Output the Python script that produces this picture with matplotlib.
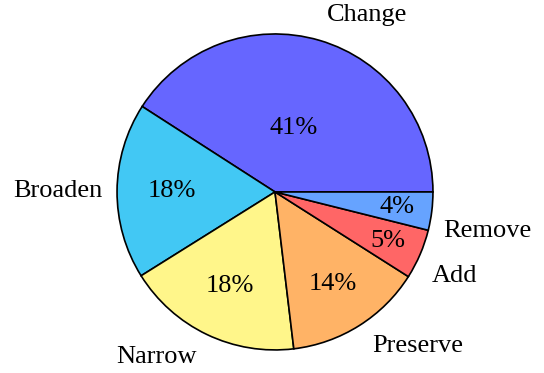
import numpy as np
import matplotlib
matplotlib.use('Agg')
import matplotlib.pyplot as plt

plt.rcParams['font.family'] = ['Liberation Serif', 'DejaVu Serif']

labels = ['Change', 'Broaden', 'Narrow', 'Preserve', 'Add', 'Remove']
shares = [40.9, 18.0, 18.0, 14.1, 5.1, 3.9]
colors = ['#6666ff', '#42c8f4', '#fff68a', '#ffb366', '#ff6666', '#66a3ff']

# per-slice placement tweaks (radius, angle shift in degrees)
pct_dist = [0.42, 0.65, 0.66, 0.69, 0.78, 0.78]
lab_dist = [1.17, 1.09, 1.155, 1.156, 1.125, 1.095]
lab_shift = [0, 0, 0, 0, -5, -6]

fig = plt.figure(figsize=(5.44, 3.73), dpi=100)
ax = fig.add_axes([0, 0, 1, 1])

wedges, texts, autotexts = ax.pie(
    shares, labels=labels, colors=colors, startangle=0, counterclock=True,
    autopct='%.0f%%', wedgeprops=dict(edgecolor='black', linewidth=1.2),
    textprops=dict(fontsize=19))

for i, w in enumerate(wedges):
    mid = np.deg2rad((w.theta1 + w.theta2) / 2)
    autotexts[i].set_position((pct_dist[i] * np.cos(mid), pct_dist[i] * np.sin(mid)))
    autotexts[i].set_ha('center')
    a = mid + np.deg2rad(lab_shift[i])
    texts[i].set_position((lab_dist[i] * np.cos(a), lab_dist[i] * np.sin(a)))

ax.set_aspect('auto')
ax.set_xlim(-1.741, 1.703)
ax.set_ylim(-1.146, 1.215)
ax.axis('off')

fig.savefig('out.png', dpi=100)
